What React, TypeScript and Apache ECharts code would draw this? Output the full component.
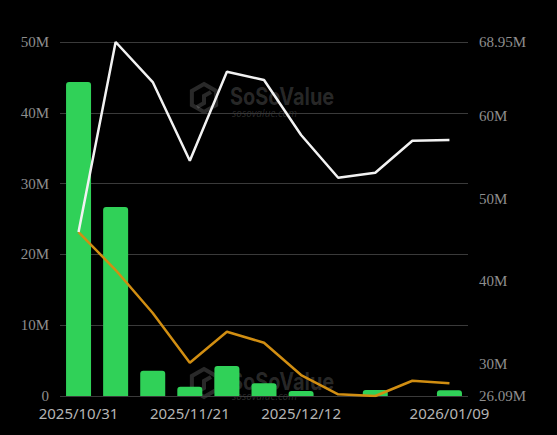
import React, { useEffect, useRef } from "react";
import * as echarts from "echarts";

const categories = [
  "2025/10/31", "2025/11/07", "2025/11/14", "2025/11/21", "2025/11/28", "2025/12/05",
  "2025/12/12", "2025/12/19", "2025/12/26", "2026/01/02", "2026/01/09",
];
const shownLabels = [0, 3, 6, 10];
// bars, in millions (left axis)
const barValues = [44.35, 26.7, 3.57, 1.3, 4.24, 1.8, 0.7, 0, 0.85, 0, 0.8];
// white line, in millions (right axis)
const whiteValues = [45.94, 68.95, 64.1, 54.58, 65.35, 64.35, 57.69, 52.52, 53.12, 56.99, 57.08];
// orange line, in millions (right axis)
const orangeValues = [45.94, 41.34, 36.14, 30.12, 33.87, 32.54, 28.63, 26.3, 26.09, 27.94, 27.63];
const leftMin = 0;
const leftMax = 50;
const leftInterval = 10;
const rightMin = 26.09;
const rightMax = 68.95;

const wmColor = "rgba(255,255,255,0.16)";

function watermark(cx: number, cy: number, subDy: number) {
  const r = 14;
  const pts: number[][] = [];
  for (let i = 0; i < 6; i++) {
    const a = (Math.PI / 3) * i - Math.PI / 2;
    pts.push([cx - 59 + r * Math.cos(a), cy + r * Math.sin(a)]);
  }
  return [
    {
      type: "polygon",
      shape: { points: pts },
      style: { fill: "none", stroke: wmColor, lineWidth: 4 },
      z: 0,
    },
    {
      type: "polyline",
      shape: {
        points: [
          [cx - 52, cy - 6],
          [cx - 59, cy - 2],
          [cx - 59, cy + 5],
          [cx - 66, cy + 9],
        ],
      },
      style: { stroke: wmColor, lineWidth: 4, fill: "none" },
      z: 0,
    },
    {
      type: "text",
      x: cx - 33,
      y: cy - 2,
      scaleX: 0.83,
      style: {
        text: "SoSoValue",
        fill: wmColor,
        font: "bold 24px Inter, 'Noto Sans', sans-serif",
        verticalAlign: "middle",
        align: "left",
      },
      z: 0,
    },
    {
      type: "text",
      x: cx - 31,
      y: cy + subDy,
      style: {
        text: "sosovalue.com",
        fill: wmColor,
        font: "italic 10px 'Noto Sans', sans-serif",
        verticalAlign: "middle",
        align: "left",
      },
      z: 0,
    },
  ];
}

export default function App() {
  const ref = useRef<HTMLDivElement>(null);
  useEffect(() => {
    if (!ref.current) return;
    const chart = echarts.init(ref.current, null, { renderer: "svg" });
    const serif = "'Liberation Serif', 'Times New Roman', serif";
    chart.setOption({
      animation: false,
      backgroundColor: "#000000",
      grid: { left: 60, right: 89, top: 42, bottom: 39 },
      graphic: [...watermark(263, 98, 15), ...watermark(263, 383, 13)],
      xAxis: {
        type: "category",
        data: categories,
        boundaryGap: true,
        axisLine: { show: false },
        axisTick: { show: false },
        axisLabel: {
          interval: (i: number) => shownLabels.includes(i),
          color: "#b4b4b4",
          fontSize: 15,
          fontFamily: "'Noto Sans', sans-serif",
          margin: 9,
        },
      },
      yAxis: [
        {
          type: "value",
          min: leftMin,
          max: leftMax,
          interval: leftInterval,
          position: "left",
          axisLine: { show: false },
          axisTick: { show: false },
          splitLine: { lineStyle: { color: "#3a3a3a", width: 1 } },
          axisLabel: {
            color: "#8e8e8e",
            fontSize: 15,
            fontFamily: serif,
            margin: 11,
            formatter: (v: number) => (v === 0 ? "0" : v + "M"),
          },
        },
        {
          type: "value",
          min: rightMin,
          max: rightMax,
          position: "right",
          axisLine: { show: false },
          axisTick: { show: false },
          splitLine: { show: false },
          axisLabel: {
            color: "#8e8e8e",
            fontSize: 15,
            fontFamily: serif,
            margin: 11,
            formatter: (v: number) => parseFloat(v.toFixed(2)) + "M",
          },
        },
      ],
      series: [
        {
          type: "bar",
          data: barValues,
          yAxisIndex: 0,
          barWidth: 25,
          itemStyle: { color: "#30d158", borderRadius: [3, 3, 0, 0] },
          z: 2,
        },
        {
          type: "line",
          data: whiteValues,
          yAxisIndex: 1,
          symbol: "none",
          lineStyle: { color: "#f2f2f2", width: 2.5 },
          z: 4,
        },
        {
          type: "line",
          data: orangeValues,
          yAxisIndex: 1,
          symbol: "none",
          lineStyle: { color: "#d18e12", width: 2.5 },
          z: 3,
        },
      ],
    });
    return () => chart.dispose();
  }, []);
  return (
    <div
      ref={ref}
      style={{ position: "fixed", left: 0, top: 0, width: 557, height: 435 }}
    />
  );
}
